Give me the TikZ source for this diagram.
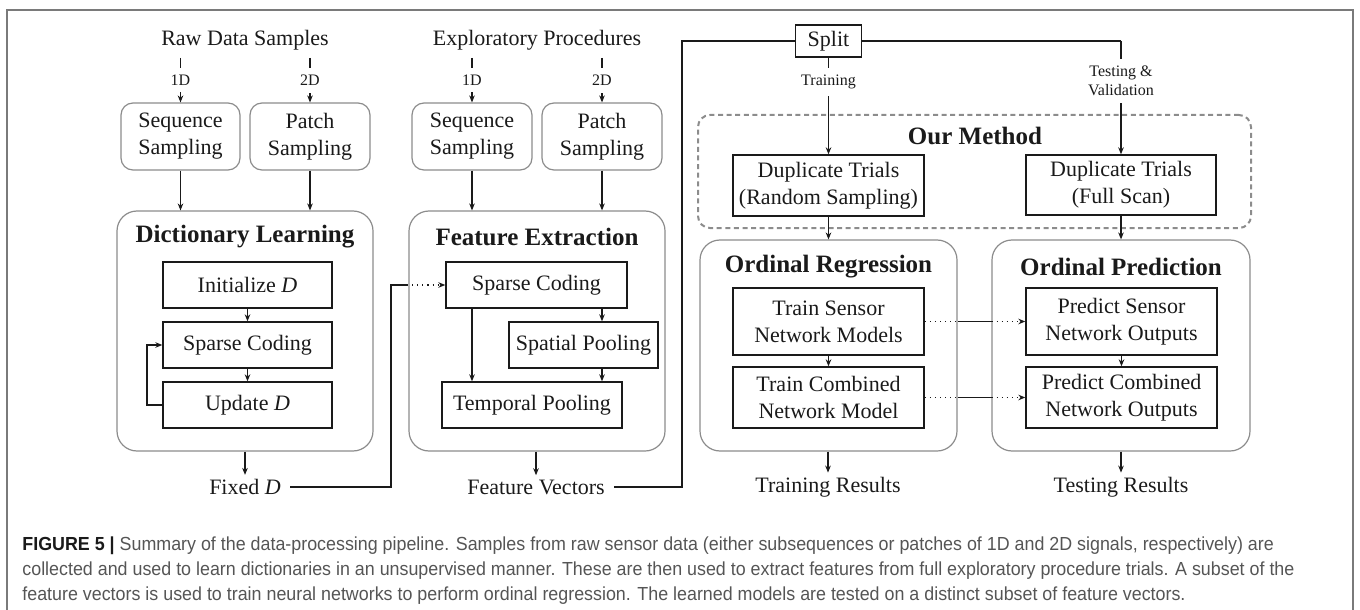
\documentclass[tikz,border=0pt]{standalone}
\usepackage{fontspec}
\setmainfont{Liberation Serif}
\newfontfamily\capfont[FakeStretch=0.945]{Liberation Sans}
\usetikzlibrary{arrows.meta,calc}
\definecolor{boxgray}{HTML}{8C8C8C}
\definecolor{txt}{HTML}{1A1A1A}
\definecolor{capgray}{HTML}{555555}
\definecolor{framegray}{HTML}{7A7A7A}
\tikzset{
 lbl/.style={font=\fontsize{11}{13.5}\selectfont, text=txt, align=center, inner sep=2pt},
 rbox/.style={draw=boxgray, line width=0.6pt, rounded corners=6pt, lbl, inner sep=0pt},
 bigbox/.style={draw=boxgray, line width=0.6pt, rounded corners=10pt, inner sep=0pt},
 sqbox/.style={draw=txt, line width=0.7pt, lbl, inner sep=0pt},
 ttl/.style={font=\fontsize{12.5}{15}\selectfont\bfseries, text=txt},
 smalllab/.style={font=\fontsize{8}{9.5}\selectfont, text=txt, fill=white, align=center, inner xsep=1pt, inner ysep=3.5pt},
 arr/.style={draw=txt, line width=0.55pt, -{Stealth[length=3.5pt,width=2.8pt]}},
 ln/.style={draw=txt, line width=0.55pt},
 dotl/.style={draw=txt, line width=0.55pt, dotted},
 captxt/.style={anchor=base west, inner sep=0pt, font=\capfont\fontsize{9.45}{13}\selectfont, text=capgray},
}
\begin{document}
\begin{tikzpicture}[x=0.5pt,y=-0.5pt]
\useasboundingbox (0,0) rectangle (1360,610);
\draw[framegray, line width=0.6pt] (7,612) -- (7,10) -- (1353,10) -- (1353,612);

% ---------- Column 1: Dictionary Learning
\node[lbl] (rds) at (245,40) {Raw Data Samples};
\node[rbox, minimum width=59.5pt, minimum height=33.5pt] (seq1) at (180.5,136.5) {Sequence\\Sampling};
\node[rbox, minimum width=60pt, minimum height=33.5pt] (pat1) at (310,136.5) {Patch\\Sampling};
\coordinate (t1a) at (180.5,58);
\coordinate (t1b) at (310,58);
\draw[arr] (t1a) -- node[smalllab]{1D} (seq1);
\draw[arr] (t1b) -- node[smalllab]{2D} (pat1);
\node[bigbox, minimum width=128pt, minimum height=120pt] (DL) at (245,331) {};
\node[ttl] (DLt) at (245,237) {Dictionary Learning};
\node[sqbox, minimum width=84.5pt, minimum height=23pt] (init) at (247.5,285) {Initialize \textit{D}};
\node[sqbox, minimum width=84.5pt, minimum height=23pt] (sc1) at (247.5,345) {Sparse Coding};
\node[sqbox, minimum width=84.5pt, minimum height=23pt] (upd) at (247.5,405) {Update \textit{D}};
\draw[arr] (seq1) -- (seq1 |- DL.north);
\draw[arr] (pat1) -- (pat1 |- DL.north);
\draw[arr] (init) -- (sc1);
\draw[arr] (sc1) -- (upd);
\coordinate (loop) at (147,405);
\draw[arr] (upd.west) -- (loop) |- (sc1.west);
\node[lbl] (fixd) at (245,487) {Fixed \textit{D}};
\draw[arr] (DL.south -| fixd) -- (fixd);

% ---------- Column 2: Feature Extraction
\node[lbl] (ep) at (537,40) {Exploratory Procedures};
\node[rbox, minimum width=60pt, minimum height=33.5pt] (seq2) at (472,136.5) {Sequence\\Sampling};
\node[rbox, minimum width=60pt, minimum height=33.5pt] (pat2) at (602,136.5) {Patch\\Sampling};
\coordinate (t2a) at (472,58);
\coordinate (t2b) at (602,58);
\draw[arr] (t2a) -- node[smalllab]{1D} (seq2);
\draw[arr] (t2b) -- node[smalllab]{2D} (pat2);
\node[bigbox, minimum width=128pt, minimum height=120pt] (FE) at (537,331) {};
\node[ttl] (FEt) at (537,237) {Feature Extraction};
\node[sqbox, minimum width=90.5pt, minimum height=23pt] (sc2) at (536.5,285) {Sparse Coding};
\node[sqbox, minimum width=74.5pt, minimum height=23pt] (spat) at (583.5,345) {Spatial Pooling};
\node[sqbox, minimum width=90pt, minimum height=23pt] (temp) at (532,405) {Temporal Pooling};
\draw[arr] (seq2) -- (seq2 |- FE.north);
\draw[arr] (pat2) -- (pat2 |- FE.north);
\coordinate (xa) at (472,0);
\coordinate (xb) at (602,0);
\draw[arr] (sc2.south -| xa) -- (temp.north -| xa);
\draw[arr] (sc2.south -| xb) -- (spat.north -| xb);
\draw[arr] (spat.south -| xb) -- (temp.north -| xb);
\node[lbl] (fv) at (536,487) {Feature Vectors};
\draw[arr] (FE.south -| fv) -- (fv);
% Fixed D -> Sparse Coding
\coordinate (fd1) at (391,487);
\coordinate (fd2) at (391,285);
\coordinate (fd3) at (407,285);
\draw[ln] (fixd.east) ++(5,0) -- (fd1) -- (fd2) -- (fd3);
\draw[dotl, -{Stealth[length=3.5pt,width=2.8pt]}] (fd3) -- (sc2.west);

% ---------- Columns 3-4
\node[draw=txt, line width=0.7pt, lbl, minimum width=33pt, minimum height=16pt, inner sep=0pt] (split) at (828.5,41) {Split};
\coordinate (fv1) at (682,487);
\coordinate (fv2) at (682,41);
\draw[ln] (fv.east) ++(5,0) -- (fv1) -- (fv2) -- (split.west);
\node[draw=boxgray, line width=1pt, dash pattern=on 2.5pt off 1.8pt, rounded corners=6pt, minimum width=276.5pt, minimum height=56.5pt, inner sep=0pt] (OM) at (974.5,171.5) {};
\node[ttl] (OMt) at (975,136) {Our Method};
\node[sqbox, minimum width=95.5pt, minimum height=30.5pt] (dupR) at (828.5,185.5) {Duplicate Trials\\(Random Sampling)};
\node[sqbox, minimum width=95pt, minimum height=30pt] (dupF) at (1121,185) {Duplicate Trials\\(Full Scan)};
\draw[arr] (split.south) -- node[smalllab, pos=0.25]{Training} (dupR.north);
\coordinate (sp1) at (1121,41);
\draw[ln] (split.east) -- (sp1);
\draw[arr] (sp1) -- node[smalllab, pos=0.35]{Testing \&\\Validation} (dupF.north);

\node[bigbox, minimum width=128.5pt, minimum height=105.5pt] (OR) at (828.5,345.5) {};
\node[bigbox, minimum width=129pt, minimum height=105.5pt] (OP) at (1121,345.5) {};
\node[ttl] (ORt) at (828.5,267) {Ordinal Regression};
\node[ttl] (OPt) at (1121,267) {Ordinal Prediction};
\draw[arr] (dupR.south) -- (dupR.south |- OR.north);
\draw[arr] (dupF.south) -- (dupF.south |- OP.north);
\node[sqbox, minimum width=95.5pt, minimum height=33.5pt] (tsn) at (828.5,321.5) {Train Sensor\\Network Models};
\node[sqbox, minimum width=95.5pt, minimum height=30.5pt] (tcn) at (828.5,397.5) {Train Combined\\Network Model};
\node[sqbox, minimum width=95.5pt, minimum height=33.5pt] (psn) at (1121.5,321.5) {Predict Sensor\\Network Outputs};
\node[sqbox, minimum width=95.5pt, minimum height=30.5pt] (pcn) at (1121.5,397.5) {Predict Combined\\Network Outputs};
\draw[arr] (tsn) -- (tcn);
\draw[arr] (psn) -- (pcn);
% dotted / solid links
\coordinate (a1) at (tsn.east -| OR.east);
\coordinate (a2) at (tsn.east -| OP.west);
\draw[dotl] (tsn.east) -- (a1);
\draw[ln] (a1) -- (a2);
\draw[dotl, -{Stealth[length=3.5pt,width=2.8pt]}] (a2) -- (psn.west);
\coordinate (b1) at (tcn.east -| OR.east);
\coordinate (b2) at (tcn.east -| OP.west);
\draw[dotl] (tcn.east) -- (b1);
\draw[ln] (b1) -- (b2);
\draw[dotl, -{Stealth[length=3.5pt,width=2.8pt]}] (b2) -- (pcn.west);
\node[lbl] (trr) at (828,487) {Training Results};
\node[lbl] (ter) at (1121,487) {Testing Results};
\draw[arr] (OR.south -| trr) -- (trr);
\draw[arr] (OP.south -| ter) -- (ter);

% ---------- Caption
\node[captxt] (cap1) at (22,550) {{\color{txt}\bfseries FIGURE 5 |} Summary of the data-processing pipeline. Samples from raw sensor data (either subsequences or patches of 1D and 2D signals, respectively) are};
\node[captxt] (cap2) at (22,575) {collected and used to learn dictionaries in an unsupervised manner. These are then used to extract features from full exploratory procedure trials. A subset of the};
\node[captxt] (cap3) at (22,600) {feature vectors is used to train neural networks to perform ordinal regression. The learned models are tested on a distinct subset of feature vectors.};
\end{tikzpicture}
\end{document}
